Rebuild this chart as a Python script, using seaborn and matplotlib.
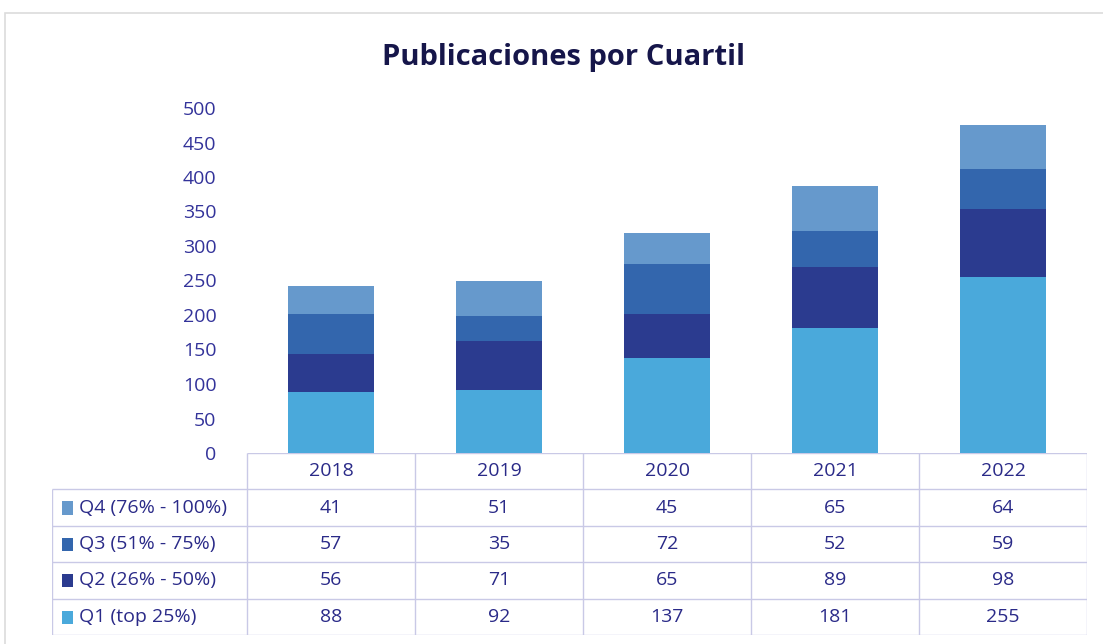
"""
Publicaciones por Cuartil - stacked bars with a data table underneath.
"""

import numpy as np
import seaborn as sns
import matplotlib.pyplot as plt
from matplotlib.patches import Rectangle

YEARS = ["2018", "2019", "2020", "2021", "2022"]
Q1 = [88, 92, 137, 181, 255]
Q2 = [56, 71, 65, 89, 98]
Q3 = [57, 35, 72, 52, 59]
Q4 = [41, 51, 45, 65, 64]
SERIES_LABELS = ["Q1 (top 25%)", "Q2 (26% - 50%)", "Q3 (51% - 75%)", "Q4 (76% - 100%)"]
COLORS = ["#4aa9db", "#2b3b8f", "#3366ad", "#6699cc"]

TEXT_COLOR = "#2a2a88"
GRID_COLOR = "#c9c9e6"

W, H = 1103, 644


def px_axes(fig, x0, y0, x1, y1):
    """Add axes given pixel corners (top-left origin)."""
    return fig.add_axes([x0 / W, 1 - y1 / H, (x1 - x0) / W, (y1 - y0) / H])


def main():
    sns.set_style("white")
    plt.rcParams["font.family"] = ["Open Sans", "DejaVu Sans"]

    fig = plt.figure(figsize=(W / 100, H / 100), dpi=100)

    # light outer frame of the chart
    fig.patches.append(Rectangle((5 / W, -0.1), 1.2, 1 - 13 / H + 0.1,
                                 transform=fig.transFigure, fill=False,
                                 edgecolor="#dcdcdc", linewidth=1.2))

    series = [Q1, Q2, Q3, Q4]
    cums = np.cumsum(np.array(series), axis=0)

    # bars
    ax = px_axes(fig, 247, 108, 1087, 453)
    for k in range(len(series) - 1, -1, -1):
        sns.barplot(x=YEARS, y=cums[k], color=COLORS[k], width=0.51,
                    saturation=1, linewidth=0, ax=ax)
    ax.set_ylim(0, 500)
    ax.set_xlim(-0.5, len(YEARS) - 0.5)
    ax.set_yticks(range(0, 501, 50))
    ax.tick_params(axis="y", labelsize=14, labelcolor="#33339a", length=0, pad=22)
    ax.set_xticks([])
    ax.set_xlabel("")
    ax.set_ylabel("")
    sns.despine(ax=ax, left=True, bottom=True)

    fig.text(563 / W, 1 - 58 / H, "Publicaciones por Cuartil", ha="center",
             va="center", fontsize=21, fontweight="bold", color="#16164a")

    # data table, columns aligned with the bar positions
    n = len(YEARS)
    label_w = 195 / 168
    tab = px_axes(fig, 52, 453, 1087, 635)
    tab.set_xlim(-0.5 - label_w, n - 0.5)
    tab.set_ylim(5, 0)
    tab.axis("off")

    lw = 1.0
    tab.hlines(0, -0.5, n - 0.5, color=GRID_COLOR, lw=lw)
    for i in range(n + 1):
        tab.vlines(i - 0.5, 0, 5, color=GRID_COLOR, lw=lw)
    for r in range(1, 6):
        tab.hlines(r, -0.5 - label_w, n - 0.5, color=GRID_COLOR, lw=lw)
    tab.vlines(-0.5 - label_w, 1, 5, color=GRID_COLOR, lw=lw)

    for i, yr in enumerate(YEARS):
        tab.text(i, 0.5, yr, ha="center", va="center", fontsize=14, color=TEXT_COLOR)

    for row, k in enumerate(range(len(series) - 1, -1, -1), start=1):
        x_sq = -0.5 - label_w + 0.06
        tab.add_patch(Rectangle((x_sq, row + 0.33), 0.065, 0.36,
                                color=COLORS[k], lw=0))
        tab.text(x_sq + 0.1, row + 0.5, SERIES_LABELS[k], ha="left",
                 va="center", fontsize=14, color=TEXT_COLOR)
        for i, v in enumerate(series[k]):
            tab.text(i, row + 0.5, str(v), ha="center", va="center",
                     fontsize=14, color=TEXT_COLOR)

    plt.savefig("out.png", dpi=100)


if __name__ == "__main__":
    main()
